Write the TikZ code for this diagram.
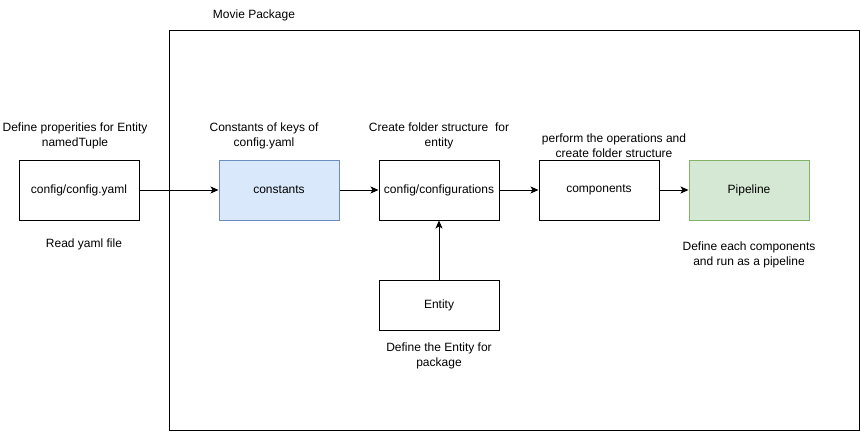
\documentclass[tikz,border=0pt]{standalone}
\usepackage{fontspec}
\setmainfont{Liberation Sans}
\usetikzlibrary{arrows.meta}
\definecolor{bluefill}{HTML}{DAE8FC}
\definecolor{blueline}{HTML}{6C8EBF}
\definecolor{greenfill}{HTML}{D5E8D4}
\definecolor{greenline}{HTML}{82B366}
\begin{document}
\begin{tikzpicture}[x=1pt,y=-1pt,
  box/.style={draw=black,line width=1pt,minimum width=120pt,minimum height=60pt,inner sep=0pt,font=\fontsize{12}{14}\selectfont},
  lbl/.style={align=center,inner sep=0pt,font=\fontsize{12}{15}\selectfont},
  arr/.style={line width=1pt,-{Stealth[length=8pt,width=7pt,inset=2pt]}}]
\useasboundingbox (0,0) rectangle (861,432);
\node[draw=black,line width=1pt,minimum width=690pt,minimum height=400pt,inner sep=0pt] (pkg) at (514,230) {};
\node[lbl] (pkgl) at (254,15) {Movie Package};
\node[box] (cfg) at (79,190) {config/config.yaml};
\node[box,fill=bluefill,draw=blueline] (const) at (279,190) {constants};
\node[box] (conf) at (439,190) {config/configurations};
\node[box] (comp) at (599,190) {components};
\node[box,fill=greenfill,draw=greenline] (pipe) at (749,190) {Pipeline};
\node[box,minimum height=50pt] (ent) at (439,305) {Entity};
\node[lbl] (l1) at (75,135.5) {Define properities for Entity\\namedTuple};
\node[lbl] (l2) at (84,244) {Read yaml file};
\node[lbl] (l3) at (264,135.5) {Constants of keys of\\config.yaml};
\node[lbl] (l4) at (439,135.5) {Create folder structure\ \ for\\entity};
\node[lbl] (l5) at (614,145.5) {perform the operations and\\create folder structure};
\node[lbl] (l6) at (749,254.5) {Define each components\\and run as a pipeline};
\node[lbl] (l7) at (439,355.5) {Define the Entity for\\package};
\draw[arr] (cfg) -- (const);
\draw[arr] (const) -- (conf);
\draw[arr] (conf) -- (comp);
\draw[arr] (comp) -- (pipe);
\draw[arr] (ent) -- (conf);
\end{tikzpicture}
\end{document}
